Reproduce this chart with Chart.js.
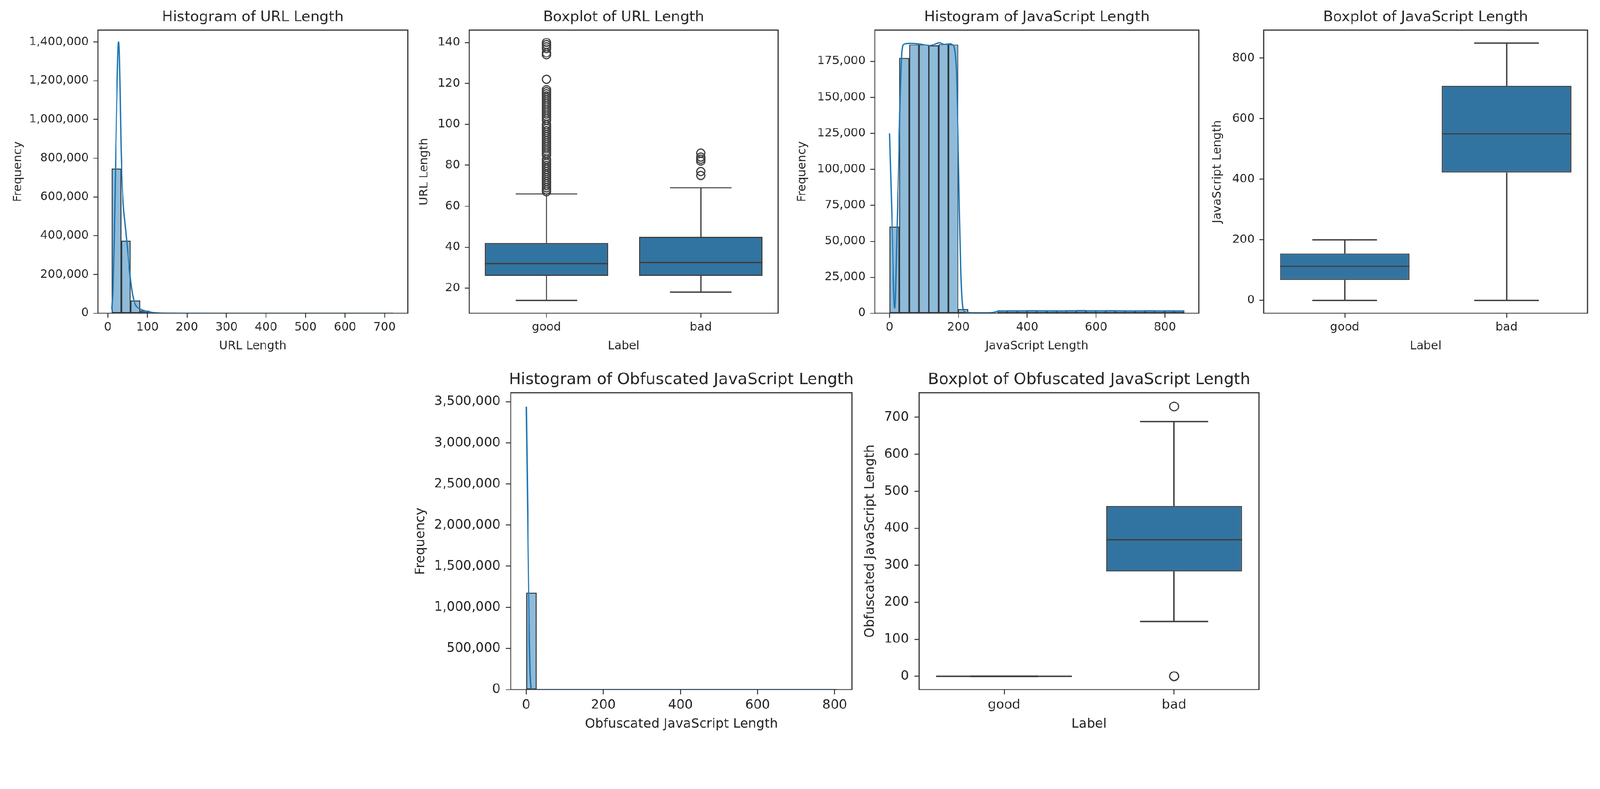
<!DOCTYPE html>
<html>
<head>
<meta charset="utf-8">
<script src="https://cdn.jsdelivr.net/npm/chart.js@4.4.1/dist/chart.umd.min.js"></script>
<style>
  html, body { margin: 0; padding: 0; background: #fff; overflow: hidden; }
  #page { position: relative; width: 4364px; height: 2019px; background: #fff; transform-origin: 0 0; }
  canvas { position: absolute; }
</style>
</head>
<body>
<div id="page"></div>
<script>
// ---------- values ----------
const labelNames = ["good", "bad"];

// URL length histogram, 30 bins
const urlBinStart = 10;
const urlBinWidth = 23.73;
const urlCounts = [746500, 374600, 65700, 12500, 2600, 900, 400, 250, 150, 100,
  80, 60, 50, 40, 30, 25, 20, 15, 12, 10, 8, 6, 5, 4, 3, 3, 2, 2, 1, 1];
const urlKde = [[10, 20000], [13, 120000], [16, 380000], [19, 720000], [22, 1060000],
  [25, 1320000], [27, 1400000], [29, 1330000], [31, 1130000], [33, 880000], [36, 680000],
  [39, 560000], [43, 470000], [47, 385000], [51, 300000], [55, 215000], [59, 145000],
  [63, 90000], [68, 52000], [74, 32000], [80, 23000], [88, 16000], [96, 11000],
  [105, 7000], [115, 4000], [130, 2000], [150, 1000], [200, 400], [300, 150],
  [400, 80], [500, 50], [600, 30], [722, 10]];
const urlXTicks = [0, 100, 200, 300, 400, 500, 600, 700];
const urlYTicks = [0, 200000, 400000, 600000, 800000, 1000000, 1200000, 1400000];
const urlXRange = [-25.3, 758.5];
const urlYRange = [0, 1461000];

// URL length boxplot
const urlLow = [14, 18];
const urlQ1 = [26, 26];
const urlMed = [32, 32.5];
const urlQ3 = [42, 45];
const urlHigh = [66, 69];
const urlGoodOutliers = [67, 68, 69, 70, 71, 72, 73, 74, 75, 76, 77, 78, 79, 80, 81, 82, 83,
  85, 86, 87, 88, 89, 90, 91, 92, 93, 94, 95, 96, 97, 98, 99, 100, 102, 103, 104, 105,
  106, 107, 108, 109, 110, 111, 112, 113, 114, 115, 116, 117, 122, 134, 135, 137, 138, 139, 140];
const urlBadOutliers = [75, 77, 82, 83, 84, 86];
const urlBoxYTicks = [20, 40, 60, 80, 100, 120, 140];
const urlBoxYRange = [7.7, 146.1];

// JavaScript length histogram, 30 bins
const jsBinStart = 0;
const jsBinWidth = 28.53;
const jsCounts = [60100, 177200, 186600, 186600, 185900, 186900, 186600, 2800, 200, 150,
  200, 1950, 2000, 1950, 2050, 2000, 1950, 2000, 2100, 2150,
  2000, 1950, 2050, 2000, 1950, 2000, 2050, 1950, 2000, 1900];
const jsKde = [[0, 125000], [7, 65000], [15, 3500], [22, 60000], [30, 140000], [36, 182000],
  [42, 187000], [60, 187500], [80, 187300], [100, 186600], [115, 186000], [130, 186800],
  [145, 188000], [160, 186800], [175, 187200], [185, 186200], [190, 182000], [195, 165000],
  [199, 125000], [203, 72000], [207, 30000], [211, 8000], [216, 1500], [225, 600],
  [250, 400], [280, 400], [300, 600], [310, 1100], [320, 1600], [400, 1650], [500, 1600],
  [600, 1650], [700, 1600], [800, 1600], [856, 1500]];
const jsXTicks = [0, 200, 400, 600, 800];
const jsYTicks = [0, 25000, 50000, 75000, 100000, 125000, 150000, 175000];
const jsXRange = [-42.8, 898.8];
const jsYRange = [0, 196700];

// JavaScript length boxplot
const jsLow = [0, 0];
const jsQ1 = [67, 422];
const jsMed = [112, 550];
const jsQ3 = [155, 709];
const jsHigh = [200, 850];
const jsBoxYTicks = [0, 200, 400, 600, 800];
const jsBoxYRange = [-42.8, 892.7];

// Obfuscated JavaScript length histogram, 30 bins
const obfBinStart = 0;
const obfBinWidth = 26.83;
const obfCounts = [1178000, 400, 350, 300, 300, 350, 400, 450, 500, 500, 550, 500, 500, 450, 450,
  400, 400, 350, 300, 300, 250, 250, 200, 200, 150, 150, 100, 100, 50, 50];
const obfKde = [[0, 3440000], [2, 2750000], [4, 2000000], [6, 1250000], [8, 620000],
  [10, 220000], [12, 40000], [14, 3000], [20, 500], [100, 500], [200, 500], [300, 500],
  [400, 500], [500, 500], [600, 500], [700, 500], [805, 300]];
const obfXTicks = [0, 200, 400, 600, 800];
const obfYTicks = [0, 500000, 1000000, 1500000, 2000000, 2500000, 3000000, 3500000];
const obfXRange = [-40.3, 845];
const obfYRange = [0, 3608000];

// Obfuscated JavaScript length boxplot
const obfLow = [0, 148];
const obfQ1 = [0, 283];
const obfMed = [0, 369];
const obfQ3 = [0, 460];
const obfHigh = [0, 688];
const obfGoodOutliers = [];
const obfBadOutliers = [729, 0, 0];
const obfBoxYTicks = [0, 100, 200, 300, 400, 500, 600, 700];
const obfBoxYRange = [-36, 766];

// ---------- layout / style ----------
const PAGE_W = 4364, PAGE_H = 2019;
const ROW = {
  top: { tick: 32, label: 32, title: 39.5, tickLen: 12, yPad: 13, xPad: 7, xTitleOff: 90, titleGap: 24, dot: 11, line: 3.5 },
  bottom: { tick: 35.5, label: 35.5, title: 43.5, tickLen: 13, yPad: 15, xPad: 8, xTitleOff: 95, titleGap: 24, dot: 12, line: 3.8 },
};

const PANELS = {
  urlHist: { box: [267, 82, 1112, 854], yTitleOff: 218, row: "top",
    title: "Histogram of URL Length", xTitle: "URL Length", yTitle: "Frequency" },
  urlBox: { box: [1280, 82, 2122, 854], yTitleOff: 123, row: "top",
    title: "Boxplot of URL Length", xTitle: "Label", yTitle: "URL Length" },
  jsHist: { box: [2386, 82, 3270, 854], yTitleOff: 198, row: "top",
    title: "Histogram of JavaScript Length", xTitle: "JavaScript Length", yTitle: "Frequency" },
  jsBox: { box: [3447, 82, 4330, 854], yTitleOff: 127, row: "top",
    title: "Boxplot of JavaScript Length", xTitle: "Label", yTitle: "JavaScript Length" },
  obfHist: { box: [1393, 1071, 2324, 1880], yTitleOff: 246, row: "bottom",
    title: "Histogram of Obfuscated JavaScript Length", xTitle: "Obfuscated JavaScript Length", yTitle: "Frequency" },
  obfBox: { box: [2507, 1071, 3434, 1880], yTitleOff: 134, row: "bottom",
    title: "Boxplot of Obfuscated JavaScript Length", xTitle: "Label", yTitle: "Obfuscated JavaScript Length" },
};

const FONT = "'DejaVu Sans', sans-serif";
const INK = "#262626";
const EDGE = "#3f3f3f";
const BLUE = "#1f77b4";

Chart.defaults.font.family = FONT;
Chart.defaults.color = INK;

// fit the fixed-size page into whatever viewport we get
const page = document.getElementById("page");
const fit = Math.min(window.innerWidth / PAGE_W, window.innerHeight / PAGE_H) || 1;
page.style.transform = "scale(" + fit + ")";

const fmtComma = (v) => Number(v).toLocaleString("en-US");

// canvas placed so that the chart area lands on the panel's box
function makeCanvas(p) {
  const r = ROW[p.row];
  const lh = r.label * 1.2;
  const [L, T, R, B] = p.box;
  const pads = {
    left: Math.round(p.yTitleOff + lh / 2 + 6),
    top: 80,
    right: 30,
    bottom: Math.round(r.xTitleOff + lh / 2 + 6),
  };
  const c = document.createElement("canvas");
  const w = (R - L) + pads.left + pads.right;
  const h = (B - T) + pads.top + pads.bottom;
  c.width = w;
  c.height = h;
  c.style.width = w + "px";
  c.style.height = h + "px";
  c.style.left = (L - pads.left) + "px";
  c.style.top = (T - pads.top) + "px";
  page.appendChild(c);
  return { c, pads, r };
}

function axis(r, pads, isX, range, ticks, fmt, titleText) {
  return {
    type: "linear",
    min: range[0],
    max: range[1],
    offset: false,
    afterBuildTicks: (s) => { s.ticks = ticks.map((v) => ({ value: v })); },
    afterFit: (s) => { if (isX) s.height = pads.bottom; else s.width = pads.left; },
    grid: { offset: false, drawOnChartArea: false, drawTicks: true, tickLength: r.tickLen, color: "#333", lineWidth: 2.5 },
    border: { display: false },
    ticks: {
      autoSkip: false, maxRotation: 0, minRotation: 0,
      padding: isX ? r.xPad : r.yPad,
      color: INK,
      font: { size: r.tick, lineHeight: 1.2 },
      callback: fmt,
    },
    title: {
      display: true, text: titleText, color: INK,
      font: { size: r.label, lineHeight: 1.2 },
      padding: isX ? { top: 0, bottom: 6 } : { top: 6, bottom: 0 },
    },
  };
}

function framePlugin(p, r) {
  return {
    id: "frame",
    afterDraw(chart) {
      const { ctx, chartArea: a } = chart;
      ctx.save();
      ctx.strokeStyle = "#333";
      ctx.lineWidth = 3;
      ctx.strokeRect(a.left, a.top, a.right - a.left, a.bottom - a.top);
      ctx.fillStyle = INK;
      ctx.font = r.title + "px " + FONT;
      ctx.textAlign = "center";
      ctx.textBaseline = "alphabetic";
      ctx.fillText(p.title, (a.left + a.right) / 2, a.top - r.titleGap);
      ctx.restore();
    },
  };
}

const baseOptions = (pads) => ({
  responsive: false,
  animation: false,
  devicePixelRatio: 1,
  layout: { padding: { left: 0, top: pads.top, right: pads.right, bottom: 0 } },
  plugins: { legend: { display: false }, tooltip: { enabled: false }, title: { display: false } },
});

function histChart(p, binStart, binWidth, counts, kde, xTicks, yTicks, xRange, yRange) {
  const { c, pads, r } = makeCanvas(p);
  new Chart(c, {
    type: "bar",
    data: {
      datasets: [
        {
          type: "line",
          order: 0,
          data: kde.map(([x, y]) => ({ x, y })),
          borderColor: BLUE,
          borderWidth: r.line,
          pointRadius: 0,
          cubicInterpolationMode: "monotone",
          fill: false,
        },
        {
          type: "bar",
          order: 1,
          data: counts.map((y, i) => ({ x: binStart + (i + 0.5) * binWidth, y })),
          backgroundColor: "rgba(31,119,180,0.5)",
          borderColor: "#333",
          borderWidth: 2,
          borderSkipped: false,
          barPercentage: 1,
          categoryPercentage: 1,
        },
      ],
    },
    options: {
      ...baseOptions(pads),
      scales: {
        x: axis(r, pads, true, xRange, xTicks, (v) => String(v), p.xTitle),
        y: axis(r, pads, false, yRange, yTicks, fmtComma, p.yTitle),
      },
    },
    plugins: [framePlugin(p, r)],
  });
}

function boxChart(p, low, q1, med, q3, high, outliers, yTicks, yRange) {
  const { c, pads, r } = makeCanvas(p);
  const whiskers = {
    id: "whiskers",
    afterDatasetsDraw(chart) {
      const { ctx } = chart;
      const ys = chart.scales.y;
      const meta = chart.getDatasetMeta(0);
      ctx.save();
      ctx.strokeStyle = EDGE;
      ctx.lineWidth = r.line;
      const seg = (x1, y1, x2, y2) => { ctx.beginPath(); ctx.moveTo(x1, y1); ctx.lineTo(x2, y2); ctx.stroke(); };
      meta.data.forEach((bar, i) => {
        const { x, width } = bar.getProps(["x", "width"], true);
        const half = width / 2;
        seg(x, ys.getPixelForValue(q3[i]), x, ys.getPixelForValue(high[i]));
        seg(x, ys.getPixelForValue(q1[i]), x, ys.getPixelForValue(low[i]));
        seg(x - half / 2, ys.getPixelForValue(high[i]), x + half / 2, ys.getPixelForValue(high[i]));
        seg(x - half / 2, ys.getPixelForValue(low[i]), x + half / 2, ys.getPixelForValue(low[i]));
        seg(x - half, ys.getPixelForValue(med[i]), x + half, ys.getPixelForValue(med[i]));
      });
      ctx.restore();
    },
  };
  const outlierPoints = [];
  outliers.forEach((list, i) => list.forEach((y) => outlierPoints.push({ x: i, y })));
  new Chart(c, {
    type: "bar",
    data: {
      datasets: [
        {
          type: "bar",
          order: 0,
          data: labelNames.map((_, i) => ({ x: i, y: [q1[i], q3[i]] })),
          backgroundColor: "#3274a1",
          borderColor: EDGE,
          borderWidth: 3,
          borderSkipped: false,
          barPercentage: 0.8,
          categoryPercentage: 1,
        },
        {
          type: "scatter",
          order: 1,
          data: outlierPoints,
          pointRadius: r.dot,
          pointBorderWidth: 3,
          pointBorderColor: EDGE,
          pointBackgroundColor: "rgba(0,0,0,0)",
        },
      ],
    },
    options: {
      ...baseOptions(pads),
      scales: {
        x: axis(r, pads, true, [-0.5, labelNames.length - 0.5], labelNames.map((_, i) => i), (v) => labelNames[v], p.xTitle),
        y: axis(r, pads, false, yRange, yTicks, (v) => String(v), p.yTitle),
      },
    },
    plugins: [whiskers, framePlugin(p, r)],
  });
}

histChart(PANELS.urlHist, urlBinStart, urlBinWidth, urlCounts, urlKde, urlXTicks, urlYTicks, urlXRange, urlYRange);
boxChart(PANELS.urlBox, urlLow, urlQ1, urlMed, urlQ3, urlHigh, [urlGoodOutliers, urlBadOutliers], urlBoxYTicks, urlBoxYRange);
histChart(PANELS.jsHist, jsBinStart, jsBinWidth, jsCounts, jsKde, jsXTicks, jsYTicks, jsXRange, jsYRange);
boxChart(PANELS.jsBox, jsLow, jsQ1, jsMed, jsQ3, jsHigh, [[], []], jsBoxYTicks, jsBoxYRange);
histChart(PANELS.obfHist, obfBinStart, obfBinWidth, obfCounts, obfKde, obfXTicks, obfYTicks, obfXRange, obfYRange);
boxChart(PANELS.obfBox, obfLow, obfQ1, obfMed, obfQ3, obfHigh, [obfGoodOutliers, obfBadOutliers], obfBoxYTicks, obfBoxYRange);
</script>
</body>
</html>
